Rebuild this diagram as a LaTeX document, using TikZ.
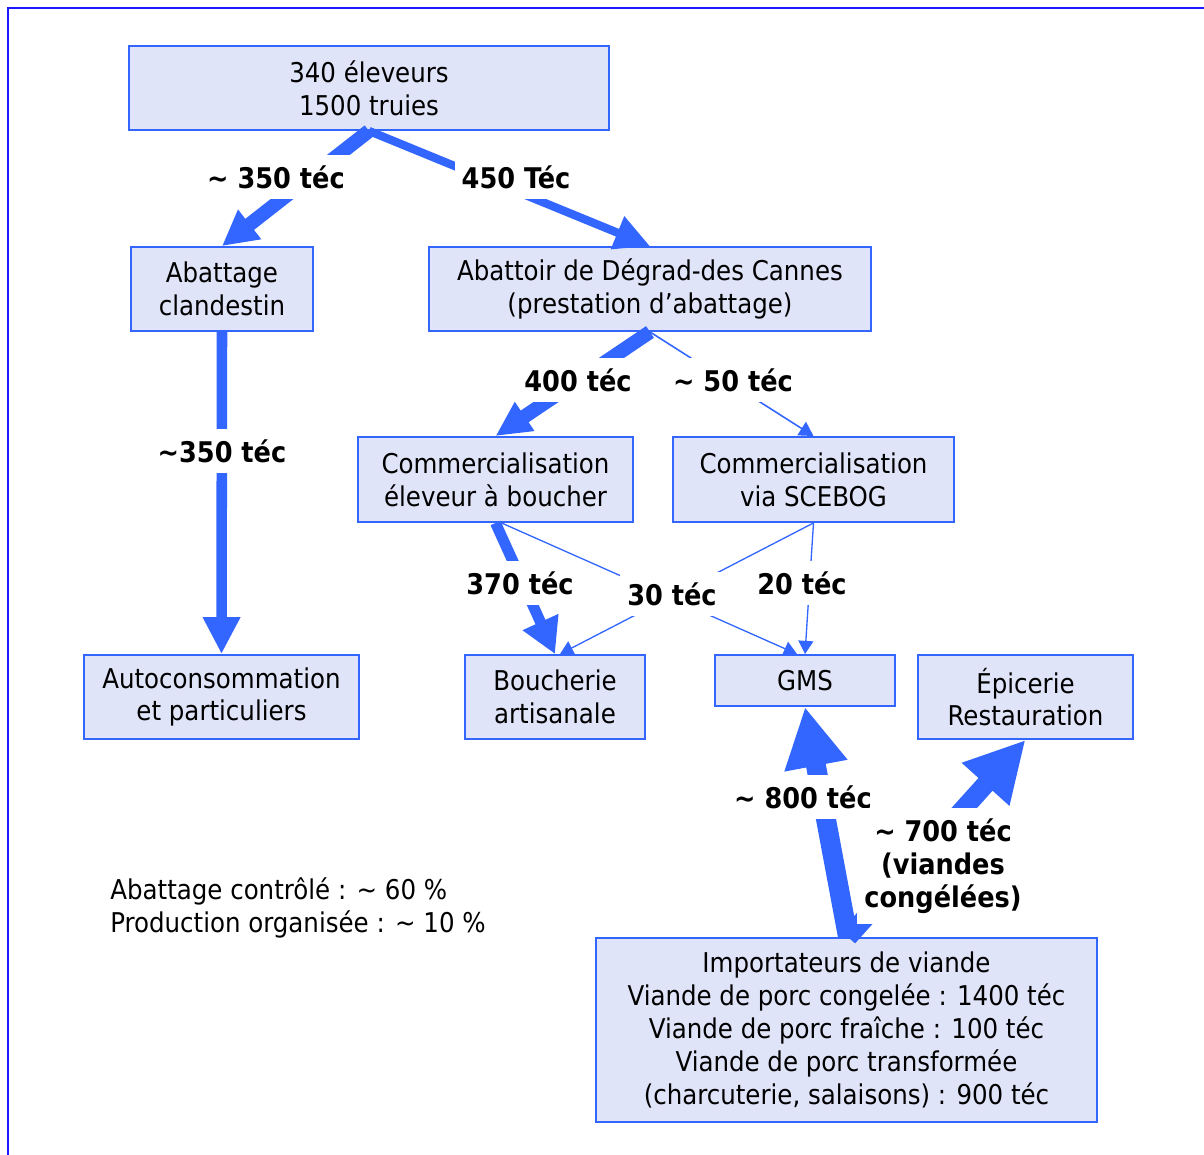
\documentclass[tikz,border=0pt]{standalone}
\usepackage{fontspec}
\setmainfont{DejaVu Sans Condensed}
\usetikzlibrary{arrows.meta}

\definecolor{flowblue}{RGB}{51,102,255}
\definecolor{boxfill}{RGB}{224,228,248}
\definecolor{framecol}{RGB}{26,26,255}
\newcommand{\boxfont}{\fontsize{15.5}{18.7}\selectfont}
\newcommand{\qtyfont}{\bfseries\fontsize{16.2}{18.7}\selectfont}
\newcommand{\tld}{\textasciitilde}

\begin{document}
\begin{tikzpicture}[x=0.02cm, y=-0.02cm,
    box/.style={draw=flowblue, line width=1.1pt, fill=boxfill, align=center, inner sep=0pt, font=\boxfont},
    qty/.style={fill=white, align=center, inner xsep=4pt, inner ysep=6pt, font=\qtyfont},
    flow/.style n args={3}{draw=flowblue, line width=#1, -{Triangle[length=#2, width=#3]}}]
    % Page size and frame
    \useasboundingbox (0,0) rectangle (1204,1155);
    \draw[framecol, line width=1.5pt] (8,1155) -- (8,8) -- (1204,8);

    % Boxes
    \node[box, minimum width=9.6cm, minimum height=1.68cm] (eleveurs) at (369,88) {340 éleveurs\\1500 truies};
    \node[box, minimum width=3.64cm, minimum height=1.68cm] (clandestin) at (222,289) {Abattage\\clandestin};
    \node[box, minimum width=8.84cm, minimum height=1.68cm] (abattoir) at (650,289) {Abattoir de Dégrad-des Cannes\\(prestation d’abattage)};
    \node[box, minimum width=5.5cm, minimum height=1.7cm] (commeleveur) at (495.5,479.5) {Commercialisation\\éleveur à boucher};
    \node[box, minimum width=5.62cm, minimum height=1.7cm] (commscebog) at (813.5,479.5) {Commercialisation\\via SCEBOG};
    \node[box, minimum width=5.5cm, minimum height=1.68cm] (autoconso) at (221.5,697) {Autoconsommation\\et particuliers};
    \node[box, minimum width=3.6cm, minimum height=1.68cm] (boucherie) at (555,697) {Boucherie\\artisanale};
    \node[box, minimum width=3.6cm, minimum height=1.02cm] (gms) at (805,680.5) {GMS};
    \node[box, minimum width=4.3cm, minimum height=1.68cm] (epicerie) at (1025.5,697) {Épicerie\\Restauration};
    \node[box, minimum width=10.02cm, minimum height=3.68cm] (import) at (846.5,1030) {Importateurs de viande\\Viande de porc congelée : 1400 téc\\Viande de porc fraîche : 100 téc\\Viande de porc transformée\\(charcuterie, salaisons) : 900 téc};

    % Flows
    \draw[flow={8pt}{20pt}{20pt}] (eleveurs.south) -- (clandestin.north);
    \draw[flow={4.7pt}{20pt}{19pt}] (eleveurs.south) -- (abattoir.north);
    \draw[flow={6pt}{21pt}{20pt}] (clandestin.south) -- (autoconso.north);
    \draw[flow={8pt}{20pt}{18.5pt}] (abattoir.south) -- (commeleveur.north);
    \draw[flow={0.9pt}{8pt}{9pt}] (abattoir.south) -- (commscebog.north);
    \draw[flow={6.2pt}{20pt}{21pt}] (commeleveur.south) -- (boucherie.north);
    \draw[flow={0.75pt}{7.5pt}{8.5pt}] ([xshift=0.12cm]commeleveur.south) -- ([xshift=-0.16cm]gms.north);
    \draw[flow={0.75pt}{7.5pt}{8.5pt}] (commscebog.south) -- ([xshift=0.1cm]boucherie.north);
    \draw[flow={0.75pt}{7.5pt}{8.5pt}] (commscebog.south) -- (gms.north);
    \draw[flow={11.3pt}{34pt}{34pt}] ([xshift=0.03cm]import.north) -- (gms.south);
    \draw[flow={10.8pt}{34pt}{34pt}] ([xshift=0.03cm]import.north) -- (epicerie.south);

    % Quantities
    \node[qty] (q350a) at (276,177) {\tld{} 350 téc};
    \node[qty] (q450) at (516,177) {450 Téc};
    \node[qty] (q350b) at (222,451) {\tld350 téc};
    \node[qty] (q400) at (578,380) {400 téc};
    \node[qty] (q50) at (733,380) {\tld{} 50 téc};
    \node[qty] (q370) at (520,583) {370 téc};
    \node[qty] (q30) at (672,594) {30 téc};
    \node[qty] (q20) at (802,583) {20 téc};
    \node[qty] (q800) at (803,797) {\tld{} 800 téc};
    \node[qty] (q700) at (943,866) {\tld{} 700 téc\\(viandes\\congélées)};

    % Shares
    \node[anchor=west, align=left, inner sep=0pt, font=\boxfont] (shares) at (110,908) {Abattage contrôlé : \tld{} 60 \%\\Production organisée : \tld{} 10 \%};
\end{tikzpicture}
\end{document}
